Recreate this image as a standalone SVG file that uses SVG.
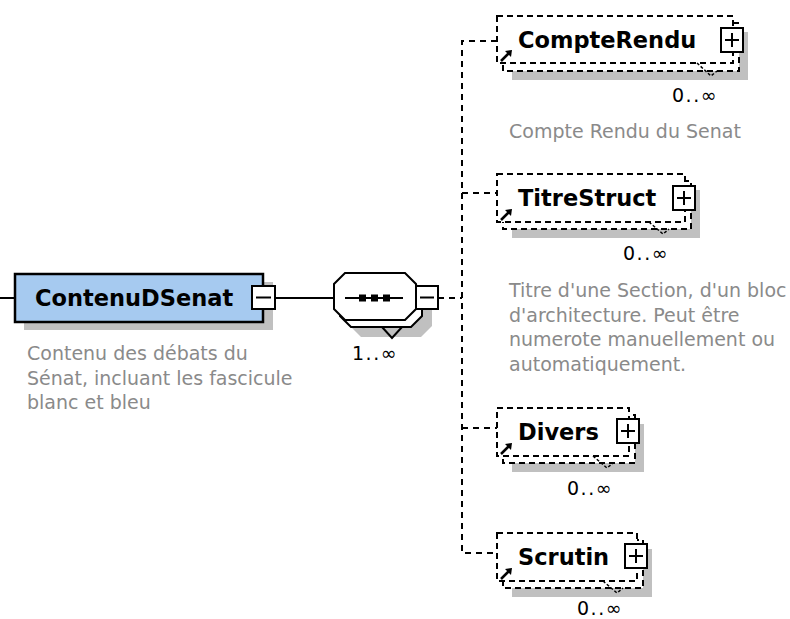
<svg xmlns="http://www.w3.org/2000/svg" width="790" height="619" viewBox="0 0 790 619">
<defs>
<style>
.shadow{fill:#c0c0c0;stroke:none}
.main{fill:#a6caf0;stroke:#000;stroke-width:2.5}
.front{fill:#fff;stroke:#000;stroke-width:2;stroke-dasharray:6,4}
.back{fill:#fff;stroke:#000;stroke-width:2;stroke-dasharray:6,4}
.btn{fill:#fff;stroke:#000;stroke-width:2}
.sign{stroke:#000;stroke-width:2;fill:none}
.title{font-family:"DejaVu Sans",Verdana,sans-serif;font-weight:bold;font-size:22.5px;fill:#000}
.desc{font-family:"DejaVu Sans",Verdana,sans-serif;font-size:19px;fill:#8a8a8a}
.occ{font-family:"DejaVu Sans",Verdana,sans-serif;font-size:19px;fill:#000;letter-spacing:1.5px}
.solid{stroke:#000;stroke-width:2;fill:none}
.dash{stroke:#000;stroke-width:2;fill:none;stroke-dasharray:6,5}
.notch{stroke:#000;stroke-width:1.5;fill:none;stroke-dasharray:3,2}
.oct{fill:#fff;stroke:#000;stroke-width:2}
</style>
<g id="arrowicon">
<line x1="0" y1="0" x2="8" y2="-8" stroke="#000" stroke-width="2.5"/>
<polygon points="11,-11 4,-10 10,-4" fill="#000"/>
</g>
<g id="plus">
<rect x="0" y="0" width="22" height="24" class="btn"/>
<line x1="4" y1="12" x2="18" y2="12" class="sign"/>
<line x1="11" y1="5" x2="11" y2="19" class="sign"/>
</g>
</defs>
<rect width="790" height="619" fill="#fff"/>

<g id="connectors">
<line x1="0" y1="298" x2="15" y2="298" class="solid"/>
<line x1="275" y1="298" x2="334" y2="298" class="solid"/>
<line x1="438" y1="298" x2="462" y2="298" class="dash"/>
<polyline points="497,41 462,41 462,553 497,553" class="dash"/>
<line x1="462" y1="193" x2="497" y2="193" class="dash"/>
<line x1="462" y1="428" x2="497" y2="428" class="dash"/>
</g>

<g id="ContenuDSenat">
<rect x="24" y="282" width="249" height="48" class="shadow"/>
<rect x="15" y="274" width="248" height="48" class="main"/>
<text x="35" y="306" class="title">ContenuDSenat</text>
<rect x="252" y="286" width="23" height="23" class="btn"/>
<line x1="256" y1="297.5" x2="271" y2="297.5" class="sign"/>
<text class="desc"><tspan x="27" y="360">Contenu des débats du</tspan><tspan x="27" y="385">Sénat, incluant les fascicule</tspan><tspan x="27" y="409">blanc et bleu</tspan></text>
</g>

<g id="sequence">
<polygon points="361,290 421,290 432,301 432,326 421,337 361,337 350,326 350,301" class="shadow"/>
<polygon points="351,280 411,280 422,291 422,316 411,327 351,327 340,316 340,291" class="oct"/>
<polyline points="382,327 392,338 402,327" class="solid"/>
<polygon points="345,273 405,273 416,284 416,309 405,320 345,320 334,309 334,284" class="oct"/>
<line x1="345" y1="298" x2="403" y2="298" class="solid"/>
<rect x="359" y="294.5" width="7" height="7" fill="#000"/>
<rect x="371" y="294.5" width="7" height="7" fill="#000"/>
<rect x="383" y="294.5" width="7" height="7" fill="#000"/>
<rect x="416" y="286" width="22" height="23" class="btn"/>
<line x1="420" y1="297.5" x2="434" y2="297.5" class="sign"/>
<text x="352" y="360" class="occ">1..∞</text>
</g>

<g id="CompteRendu">
<rect x="512" y="32" width="236" height="48" class="shadow"/>
<rect x="503" y="23" width="236" height="48" class="back"/>
<rect x="497" y="16" width="236" height="47" class="front"/>
<polyline points="697,63 711,76 717,71" class="notch"/>
<use href="#arrowicon" x="501" y="61"/>
<text x="518" y="48" class="title">CompteRendu</text>
<use href="#plus" x="721" y="28"/>
<text x="672" y="102" class="occ">0..∞</text>
<text x="509" y="138" class="desc">Compte Rendu du Senat</text>
</g>

<g id="TitreStruct">
<rect x="512" y="190" width="188" height="48" class="shadow"/>
<rect x="503" y="181" width="188" height="48" class="back"/>
<rect x="497" y="174" width="188" height="48" class="front"/>
<polyline points="649,222 663,234 669,229" class="notch"/>
<use href="#arrowicon" x="501" y="220"/>
<text x="518" y="206" class="title">TitreStruct</text>
<use href="#plus" x="673" y="186"/>
<text x="623" y="260" class="occ">0..∞</text>
<text class="desc"><tspan x="509" y="297">Titre d'une Section, d'un bloc</tspan><tspan x="509" y="322">d'architecture. Peut être</tspan><tspan x="509" y="346">numerote manuellement ou</tspan><tspan x="509" y="371">automatiquement.</tspan></text>
</g>

<g id="Divers">
<rect x="512" y="424" width="132" height="48" class="shadow"/>
<rect x="503" y="415" width="132" height="48" class="back"/>
<rect x="497" y="408" width="132" height="48" class="front"/>
<polyline points="593,456 607,468 613,463" class="notch"/>
<use href="#arrowicon" x="501" y="454"/>
<text x="518" y="440" class="title">Divers</text>
<use href="#plus" x="617" y="419"/>
<text x="567" y="495" class="occ">0..∞</text>
</g>

<g id="Scrutin">
<rect x="512" y="549" width="140" height="48" class="shadow"/>
<rect x="503" y="540" width="140" height="48" class="back"/>
<rect x="497" y="533" width="140" height="48" class="front"/>
<polyline points="603,581 617,593 623,588" class="notch"/>
<use href="#arrowicon" x="501" y="579"/>
<text x="518" y="565" class="title">Scrutin</text>
<use href="#plus" x="625" y="544"/>
<text x="577" y="615" class="occ">0..∞</text>
</g>
</svg>
